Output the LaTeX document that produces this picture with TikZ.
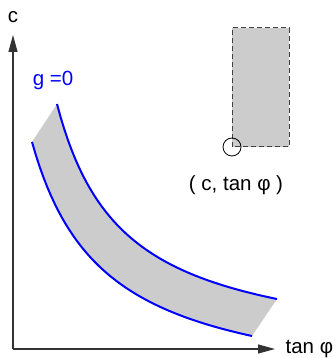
\documentclass[tikz,border=0pt]{standalone}
\usepackage{fontspec}
\setmainfont{Liberation Sans}
\usetikzlibrary{arrows.meta}

\begin{document}
\begin{tikzpicture}[x=1pt,y=1pt,line width=1.2pt,>={Triangle[length=17pt,width=9pt]},
  lbl/.style={inner sep=0pt,font=\fontsize{20.5}{22}\selectfont},
  gline/.style={blue,line width=2pt},
  box/.style={fill=black!20,draw=black!75,dash pattern=on 5pt off 3pt,line width=1pt}]
  \useasboundingbox (0,0) rectangle (335,358);
  % banda
  \fill[black!20] plot[domain=57:277,samples=60] (\x,{167.3/((\x+9)/100)+0.5})
    -- plot[domain=252:32,samples=60] (\x,{185.4/((\x+40)/100)-41.5}) -- cycle;
  \draw[gline] plot[domain=57:277,samples=60] (\x,{167.3/((\x+9)/100)+0.5});
  \draw[gline] plot[domain=32:252,samples=60] (\x,{185.4/((\x+40)/100)-41.5});
  \node[lbl,text=blue] (g) at (53,278) {g =0};
  % ejes
  \coordinate (O) at (13,9);
  \coordinate (ytip) at (13,323);
  \coordinate (xtip) at (275,9);
  \draw[->,black!80] (O) -- (ytip);
  \draw[->,black!80] (O) -- (xtip);
  \node[lbl] (c) at (13,341) {c};
  \node[lbl,anchor=base west] (tanphi) at (285,5) {tan φ};
  % punto y rectangulo
  \coordinate (P) at (232,211);
  \draw[box] (P) rectangle (289,330);
  \draw[line width=0.8pt] (P) circle (9);
  \node[lbl] (pt) at (236,173) {( c, tan φ )};
\end{tikzpicture}
\end{document}
